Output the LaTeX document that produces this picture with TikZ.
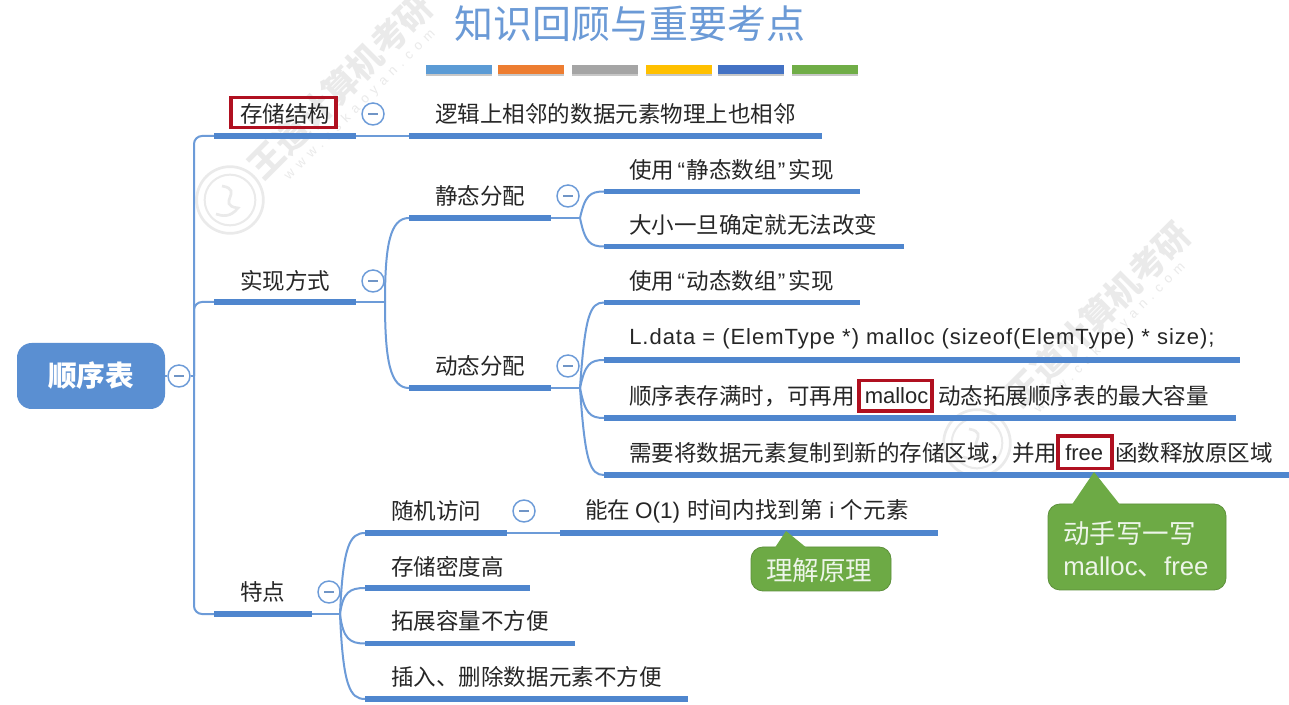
\documentclass[tikz,border=0pt]{standalone}
\usepackage{fontspec}
\setmainfont{Liberation Sans}
\newfontfamily\cjk{Noto Sans CJK SC}
\usetikzlibrary{calc}
\definecolor{mblue}{HTML}{5A8FD2}
\definecolor{lnblue}{HTML}{6C9BD8}
\definecolor{barblue}{HTML}{4F86CE}
\definecolor{redbox}{HTML}{B01020}
\definecolor{cgreen}{HTML}{6DAA45}
\definecolor{wm}{HTML}{EAEAEA}
\newcommand{\qo}{{\rmfamily\hspace{2.5pt}“\hspace{1pt}}}
\newcommand{\qc}{{\rmfamily\hspace{1pt}”\hspace{2.5pt}}}
\tikzset{
 x=0.75pt,y=-0.75pt,
 lbl/.style={inner sep=0pt,anchor=west,text=black!85,font=\fontsize{16.9}{18}\selectfont\cjk},
 latlbl/.style={lbl,font=\fontsize{16.5}{18}\selectfont\rmfamily},
 bar/.style={draw=barblue,line width=4.2pt},
 thin link/.style={draw=lnblue,line width=1.5pt},
 tog/.style={circle,draw=lnblue,fill=white,line width=1.1pt,minimum size=16.5pt,inner sep=0pt,path picture={\draw[lnblue!80!gray,line width=1pt] ($(path picture bounding box.center)+(-3.5pt,0)$) -- ($(path picture bounding box.center)+(3.5pt,0)$);}},
 redb/.style={draw=redbox,line width=2.6pt,fill=none,inner sep=0pt},
 wmark/.style={text=wm,font=\fontsize{26}{28}\selectfont\bfseries\cjk,rotate=45},
 wmurl/.style={text=wm,font=\fontsize{10}{10}\selectfont\addfontfeature{LetterSpace=45},rotate=45},
 logo/.style={circle,draw=wm,line width=2pt,minimum size=50pt,inner sep=0pt},
 rmk/.style={fill=cgreen,draw=cgreen!85!black,line width=.6pt,rounded corners=9pt},
 rmkt/.style={text=white!88!cgreen,inner sep=0pt,font=\fontsize{19.9}{24}\selectfont\cjk,align=left,anchor=west},
}
\begin{document}
\begin{tikzpicture}
\useasboundingbox (0,0) rectangle (1289,705);
\fill[white] (0,0) rectangle (1289,705);
% watermarks
\node[wmark] (w1) at (340,86) {王道计算机考研};
\node[wmurl] (u1) at (360,105) {www.cskaoyan.com};
\node[logo] (c1) at (230,200) {};
\draw[wm,line width=1.5pt] (c1) circle (19pt);
\draw[wm,line width=2pt] (222,186) .. controls (245,190) and (215,205) .. (238,208) .. controls (230,218) and (222,216) .. (216,214);
\node[wmark] (w2) at (1098,314) {王道计算机考研};
\node[wmurl] (u2) at (1110,338) {www.cskaoyan.com};
\node[logo] (c2) at (977,443) {};
\draw[wm,line width=1.5pt] (c2) circle (19pt);
\draw[wm,line width=2pt] (969,429) .. controls (992,433) and (962,448) .. (985,451) .. controls (977,461) and (969,459) .. (963,457);
% title
\node[inner sep=0pt,text=mblue!90!white,font=\fontsize{29.2}{31}\selectfont\cjk] (title) at (630,24) {知识回顾与重要考点};
\foreach \a/\b/\c in {426/492/5B9BD5,498/564/ED7D31,572/638/A5A5A5,646/712/FFC000,718/784/4472C4,792/858/70AD47}{
  \definecolor{tmp}{HTML}{\c}
  \fill[black!22] (\a,68.5) rectangle (\b,76);
  \fill[tmp] (\a,65.5) rectangle (\b,74);
}
% root
\node[fill=mblue,rounded corners=11pt,minimum width=111pt,minimum height=49.5pt,inner sep=0pt,text=white,font=\fontsize{21.5}{22}\selectfont\bfseries\cjk] (root) at (91,376) {顺序表};
\node[tog] (t0) at (179,376) {};
% anchors
\coordinate (j0) at (194,376);
\coordinate (a1) at (214,136); \coordinate (a1e) at (356,136);
\coordinate (a2) at (214,302); \coordinate (a2e) at (356,302);
\coordinate (a3) at (214,614); \coordinate (a3e) at (312,614);
\draw[thin link] (root) -- (t0) -- (j0);
\draw[thin link,rounded corners=6pt] (a1) -| (j0) |- (a3);
\draw[thin link,rounded corners=6pt] (j0) |- (a2);
\foreach \s/\e in {a1/a1e,a2/a2e,a3/a3e} \draw[bar] (\s) -- (\e);
% level 1 labels
\node[lbl] (n1) at (240,114) {存储结构};
\node[lbl] (n2) at (240,281) {实现方式};
\node[lbl] (n3) at (240,592) {特点};
\node[tog] (t1) at (373,114) {};
\node[tog] (t2) at (373,281) {};
\node[tog] (t3) at (329,592) {};
\draw[redb] (231,97.5) rectangle (336,127.5);
% 存储结构 branch
\coordinate (b1) at (409,136); \coordinate (b1e) at (822,136);
\draw[thin link] (a1e) -- (b1);
\draw[bar] (b1) -- (b1e);
\node[lbl] (n11) at (435,114) {逻辑上相邻的数据元素物理上也相邻};
% 实现方式 branch
\coordinate (j2) at (385,302);
\coordinate (b2) at (409,218); \coordinate (b2e) at (551,218);
\coordinate (b3) at (409,388); \coordinate (b3e) at (551,388);
\draw[thin link] (a2e) -- (j2);
\draw[thin link] (j2) .. controls (385,245) and (390,218) .. (b2);
\draw[thin link] (j2) .. controls (385,360) and (390,388) .. (b3);
\draw[bar] (b2) -- (b2e); \draw[bar] (b3) -- (b3e);
\node[lbl] (n21) at (435,196) {静态分配};
\node[lbl] (n22) at (435,366) {动态分配};
\node[tog] (t21) at (568,196) {};
\node[tog] (t22) at (568,366) {};
% static leaves
\coordinate (j21) at (580,218);
\draw[thin link] (b2e) -- (j21);
\foreach \n/\y/\e in {s1/191.5/860,s2/246.5/904}{
  \coordinate (\n) at (604,\y); \coordinate (\n e) at (\e,\y);
  \draw[thin link] (j21) .. controls (585,{0.15*218+0.85*\y}) and (590,\y) .. (\n);
  \draw[bar] (\n) -- (\n e);
}
\node[lbl] (l1) at (629,170) {使用\qo 静态数组\qc 实现};
\node[lbl] (l2) at (629,225) {大小一旦确定就无法改变};
% dynamic leaves
\coordinate (j22) at (580,388);
\draw[thin link] (b3e) -- (j22);
\foreach \n/\y/\e in {d1/302.5/860,d2/360/1240,d3/418/1236,d4/475/1289}{
  \coordinate (\n) at (604,\y); \coordinate (\n e) at (\e,\y);
  \draw[thin link] (j22) .. controls (585,{0.15*388+0.85*\y}) and (590,\y) .. (\n);
  \draw[bar] (\n) -- (\n e);
}
\node[lbl] (l3) at (629,281) {使用\qo 动态数组\qc 实现};
\node[latlbl,font=\fontsize{16.5}{18}\selectfont\rmfamily\addfontfeature{LetterSpace=4.4}] (l4) at (629,339) {L.data = (ElemType *) malloc (sizeof(ElemType) * size);};
\node[lbl] (l5a) at (629,396) {顺序表存满时，可再用};
\node[latlbl] (l5b) at (864.5,396) {malloc};
\node[lbl] (l5c) at (938,396) {动态拓展顺序表的最大容量};
\draw[redb] (859,380.5) rectangle (932,411);
\node[lbl] (l6a) at (629,453) {需要将数据元素复制到新的存储区域，并用};
\node[latlbl] (l6b) at (1065,453) {free};
\node[lbl] (l6c) at (1115,453) {函数释放原区域};
\draw[redb] (1058,436) rectangle (1112,468.5);
% 特点 branch
\coordinate (j3) at (340,614);
\draw[thin link] (a3e) -- (j3);
\foreach \n/\y/\e in {p1/533/507,p2/588/530,p3/643.5/575,p4/699/688}{
  \coordinate (\n) at (365,\y); \coordinate (\n e) at (\e,\y);
  \draw[thin link] (j3) .. controls (343,{0.15*614+0.85*\y}) and (350,\y) .. (\n);
  \draw[bar] (\n) -- (\n e);
}
\node[lbl] (f1) at (391,511) {随机访问};
\node[lbl] (f2) at (391,567) {存储密度高};
\node[lbl] (f3) at (391,621) {拓展容量不方便};
\node[lbl] (f4) at (391,677) {插入、删除数据元素不方便};
\node[tog] (t31) at (524,511) {};
\coordinate (q1) at (560,533); \coordinate (q1e) at (938,533);
\draw[thin link] (p1e) -- (q1);
\draw[bar] (q1) -- (q1e);
\node[lbl] (f11) at (585,511) {能在{\rmfamily\hspace{3.5pt}O(1)\hspace{5.5pt}}时间内找到第{\rmfamily\hspace{5pt}i\hspace{5pt}}个元素};
% callouts
\path[rmk] (751,547) rectangle (891,591);
\fill[cgreen] (774,549) -- (786,531) -- (808,549) -- cycle;
\node[rmkt] (r1) at (766,570) {理解原理};
\path[rmk] (1048,504) rectangle (1226,590);
\fill[cgreen] (1071,506) -- (1094,472) -- (1121,506) -- cycle;
\node[rmkt] (r2) at (1063,549) {动手写一写\\{\rmfamily\fontsize{19.3}{24}\selectfont malloc}、{\rmfamily\fontsize{19.3}{24}\selectfont free}};
\end{tikzpicture}
\end{document}
